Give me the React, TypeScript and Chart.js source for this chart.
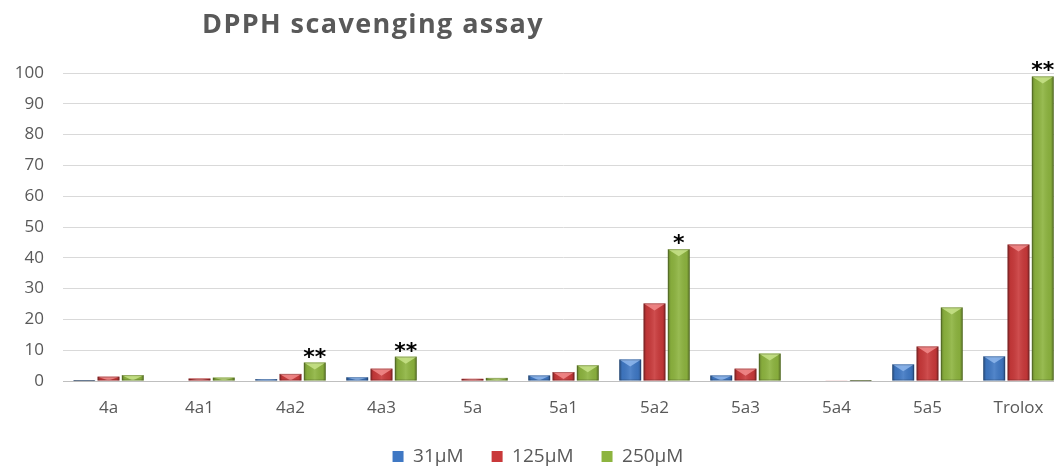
import { useEffect, useRef } from "react";
import { Chart, registerables } from "chart.js";
import type { Plugin } from "chart.js";

Chart.register(...registerables);

const categories = ["4a", "4a1", "4a2", "4a3", "5a", "5a1", "5a2", "5a3", "5a4", "5a5", "Trolox"];
const seriesLabels = ["31μM", "125μM", "250μM"];
const values31 = [0.3, 0, 0.6, 1.2, 0, 1.8, 7.0, 1.8, 0, 5.4, 8.0];
const values125 = [1.4, 0.8, 2.3, 4.0, 0.7, 2.9, 25.2, 4.0, 0.2, 11.2, 44.3];
const values250 = [1.9, 1.1, 6.0, 7.9, 1.0, 5.1, 42.8, 8.9, 0.3, 23.9, 98.9];
const significance250 = ["", "", "**", "**", "", "", "*", "", "", "", "**"];
const yMin = 0;
const yMax = 100;
const yStep = 10;
const chartTitle = "DPPH scavenging assay";

const seriesColors = ["#3F78C4", "#C9393A", "#8DB43F"];
const seriesLight = ["#8FB7EC", "#F28C8C", "#C8E38A"];
const textGray = "#595959";
const fontFamily = "'Open Sans', 'DejaVu Sans', sans-serif";

// Excel-style bevel: dark edges, lighter face and a light "V" cap on top.
const bevelPlugin: Plugin<"bar"> = {
  id: "bevel",
  afterDatasetsDraw(chart) {
    const ctx = chart.ctx;
    ctx.save();
    chart.data.datasets.forEach((_, di) => {
      const meta = chart.getDatasetMeta(di);
      meta.data.forEach((el: any) => {
        const { x, y, base, width } = el.getProps(["x", "y", "base", "width"], true);
        const h = base - y;
        if (h <= 0.2) return;
        const left = x - width / 2;
        const right = x + width / 2;
        const g = ctx.createLinearGradient(left, 0, right, 0);
        g.addColorStop(0, "rgba(0,0,0,0.30)");
        g.addColorStop(0.14, "rgba(0,0,0,0.05)");
        g.addColorStop(0.5, "rgba(255,255,255,0.10)");
        g.addColorStop(0.86, "rgba(0,0,0,0.05)");
        g.addColorStop(1, "rgba(0,0,0,0.30)");
        ctx.fillStyle = g;
        ctx.fillRect(left, y, width, h);
        const cap = Math.min(7, h);
        ctx.fillStyle = seriesLight[di];
        ctx.globalAlpha = 0.85;
        ctx.beginPath();
        ctx.moveTo(left, y);
        ctx.lineTo(right, y);
        ctx.lineTo(x, y + cap);
        ctx.closePath();
        ctx.fill();
        ctx.globalAlpha = 1;
        ctx.strokeStyle = "rgba(0,0,0,0.22)";
        ctx.lineWidth = 1;
        ctx.strokeRect(left + 0.5, y + 0.5, width - 1, Math.max(0, h - 1));
      });
    });
    ctx.restore();
  },
};

// Significance stars above the 250 µM bars, plus the chart heading.
const annotationPlugin: Plugin<"bar"> = {
  id: "annotations",
  afterDraw(chart) {
    const ctx = chart.ctx;
    ctx.save();
    const meta = chart.getDatasetMeta(2);
    ctx.fillStyle = "#000";
    ctx.font = "bold 22px 'DejaVu Sans', sans-serif";
    ctx.textAlign = "center";
    ctx.textBaseline = "alphabetic";
    meta.data.forEach((el: any, i: number) => {
      const mark = significance250[i];
      if (!mark) return;
      ctx.fillText(mark, el.x, el.y + 1);
    });
    ctx.fillStyle = textGray;
    ctx.font = `bold 27px ${fontFamily}`;
    (ctx as any).letterSpacing = "1.4px";
    ctx.textAlign = "left";
    ctx.fillText(chartTitle, 202, 33);
    ctx.restore();
  },
};

export default function App() {
  const canvasRef = useRef<HTMLCanvasElement | null>(null);

  useEffect(() => {
    const canvas = canvasRef.current;
    if (!canvas) return;
    const series = [values31, values125, values250];
    const chart = new Chart(canvas, {
      type: "bar",
      data: {
        labels: categories,
        datasets: series.map((vals, i) => ({
          label: seriesLabels[i],
          data: vals,
          backgroundColor: seriesColors[i],
          borderWidth: 0,
          categoryPercentage: 0.8,
          barPercentage: 0.9,
        })),
      },
      options: {
        responsive: false,
        animation: false,
        layout: { padding: { left: 12, right: 0, top: 73, bottom: 5 } },
        scales: {
          x: {
            grid: { display: false, drawTicks: false },
            border: { display: true, color: "#BFBFBF", width: 1 },
            ticks: { color: textGray, font: { family: fontFamily, size: 17 }, padding: 17, maxRotation: 0 },
            afterFit(scale: any) {
              scale.height = 38;
            },
          },
          y: {
            min: yMin,
            max: yMax,
            ticks: { stepSize: yStep, color: textGray, font: { family: fontFamily, size: 17 }, padding: 19 },
            grid: { color: "#D9D9D9", lineWidth: 1, drawTicks: false },
            border: { display: false },
            afterFit(scale: any) {
              scale.width = 51;
            },
          },
        },
        plugins: {
          legend: {
            position: "bottom",
            labels: {
              boxWidth: 11,
              boxHeight: 11,
              padding: 28,
              color: textGray,
              font: { family: fontFamily, size: 19 },
            },
          },
          tooltip: { enabled: false },
          title: { display: false },
        },
      },
      plugins: [bevelPlugin, annotationPlugin],
    });
    return () => chart.destroy();
  }, []);

  return (
    <div
      style={{
        position: "fixed",
        left: 0,
        top: 0,
        width: 1054,
        height: 466,
        overflow: "hidden",
        background: "#fff",
      }}
    >
      <canvas ref={canvasRef} width={1064} height={481} style={{ width: 1064, height: 481, display: "block" }} />
    </div>
  );
}
